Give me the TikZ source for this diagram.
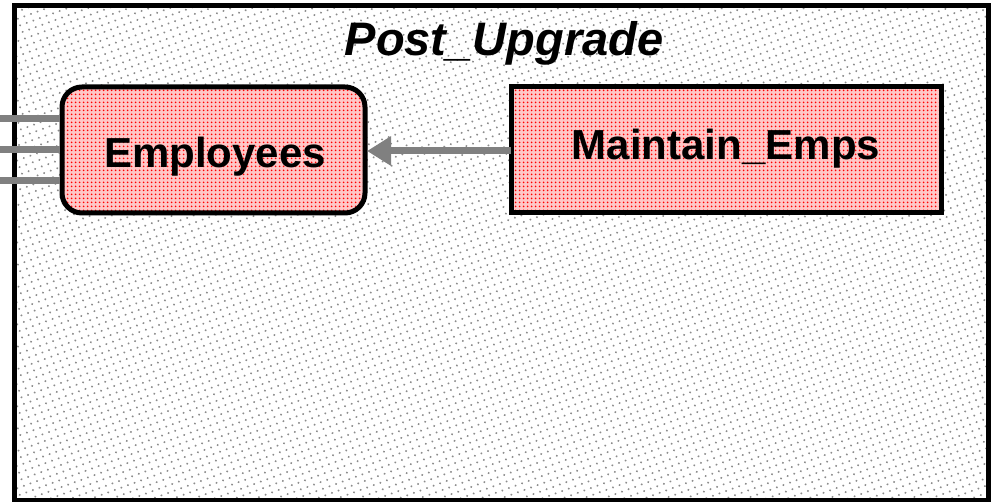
\documentclass[tikz,border=0pt]{standalone}
\usepackage{fontspec}
\setmainfont{Liberation Sans}
\usetikzlibrary{patterns.meta,arrows.meta}
\tikzset{
  dotbg/.style={pattern={Dots[distance=7pt,radius=1.1pt,angle=20]},pattern color=black!45},
  redfill/.style={preaction={fill=red!22},pattern={Dots[distance=4pt,radius=1.2pt]},pattern color=red},
  boxline/.style={draw=black,line width=5pt},
  conn/.style={draw=black!50,line width=7pt},
  lbl/.style={font=\bfseries\fontsize{42}{48}\selectfont,anchor=base,inner sep=0pt},
}
\begin{document}
\begin{tikzpicture}[x=1pt,y=-1pt]
\useasboundingbox (0,0) rectangle (998,502);
\fill[white] (0,0) rectangle (998,502);
\path[dotbg] (14,6) rectangle (988,500);
\draw[line width=5pt] (14,6) rectangle (988,500);
\node[font=\bfseries\itshape\fontsize{47}{54}\selectfont,anchor=base,inner sep=0pt] (title) at (504,56) {Post\_Upgrade};
\path[redfill,boxline,rounded corners=20pt] (62,87) rectangle (365,213);
\node[lbl] (emp) at (215,168) {Employees};
\coordinate (empE) at (365,151);
\path[redfill,boxline] (511,87) rectangle (941,213);
\node[lbl] (mnt) at (726,160) {Maintain\_Emps};
\coordinate (mntW) at (511,151);
\coordinate (s1) at (0,119);
\coordinate (s2) at (0,150);
\coordinate (s3) at (0,181);
\coordinate (e1) at (60,119);
\coordinate (e2) at (60,150);
\coordinate (e3) at (60,181);
\draw[conn] (s1) -- (e1);
\draw[conn] (s2) -- (e2);
\draw[conn] (s3) -- (e3);
\draw[conn,-{Triangle[length=24pt,width=28pt]}] (mntW) -- ([xshift=2pt]empE);
\end{tikzpicture}
\end{document}
